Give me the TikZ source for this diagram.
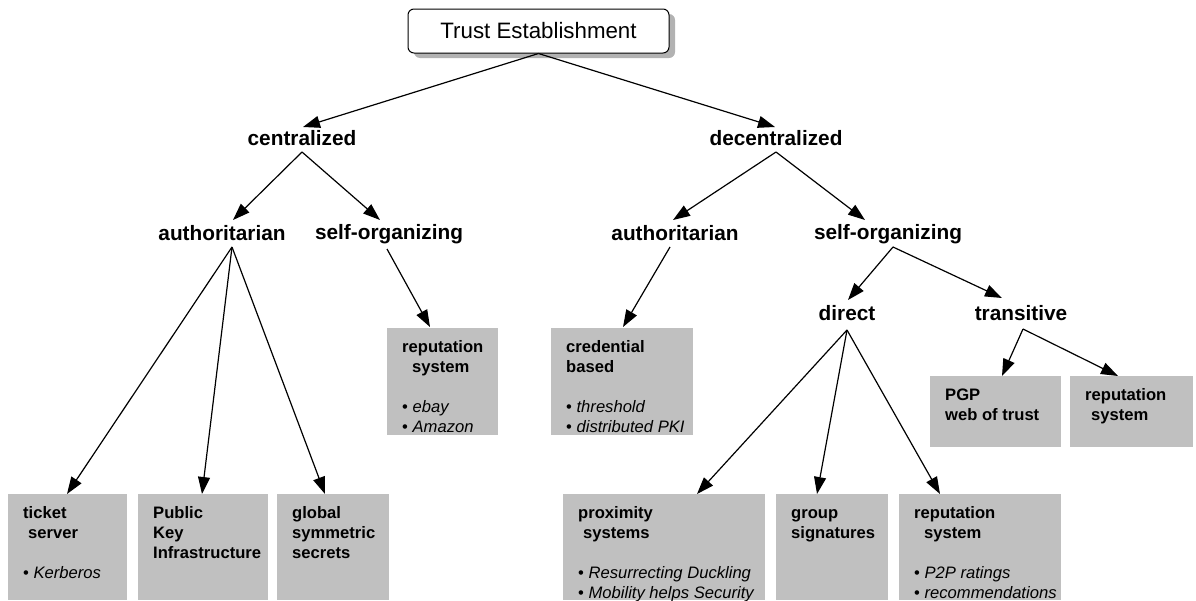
\documentclass[tikz,border=0pt]{standalone}
\usepackage{fontspec}
\setmainfont{Liberation Sans}
\usetikzlibrary{arrows.meta,shadows}
\definecolor{boxgray}{HTML}{C0C0C0}
\newcommand\bxt[3]{\begin{minipage}[t][#2pt][t]{#1pt}\raggedright\setlength\leftskip{15pt}\setlength\parindent{0pt}\fontsize{16.6}{20}\selectfont\rule{0pt}{24pt}#3\end{minipage}}
\tikzset{
  gbox/.style={fill=boxgray, draw=none, inner sep=0pt, anchor=north west},
  lab/.style={font=\fontsize{20.8}{24}\selectfont\bfseries, inner sep=0pt, text height=15pt, text depth=4pt},
  arr/.style={line width=1.2pt, -{Triangle[length=17pt,width=12pt]}},
  root/.style={draw, line width=1pt, rounded corners=6pt, fill=white, minimum width=261pt, minimum height=44pt, inner sep=0pt,
    font=\fontsize{22.3}{26}\selectfont, drop shadow={shadow xshift=6pt, shadow yshift=-5pt, fill=black!30, opacity=1}}
}
\begin{document}
\begin{tikzpicture}[x=1pt,y=-1pt]
\useasboundingbox (0,0) rectangle (1196,600);
% root
\node[root] (trust) at (538.5,31) {Trust Establishment};
% labels
\node[lab] (cen) at (302,140) {centralized};
\node[lab] (dec) at (776,140) {decentralized};
\node[lab] (autL) at (222,235) {authoritarian};
\node[lab] (selfL) at (389,234) {self-organizing};
\node[lab] (autR) at (675,235) {authoritarian};
\node[lab] (selfR) at (888,234) {self-organizing};
\node[lab] (direct) at (847,315) {direct};
\node[lab] (trans) at (1021,315) {transitive};
% boxes
\node[gbox] (repC) at (387,328) {\bxt{111}{107}{{\bfseries reputation\\\hspace*{10pt}system}\\[20pt]• \textit{ebay}\\• \textit{Amazon}}};
\node[gbox] (cred) at (551,328) {\bxt{142}{107}{{\bfseries credential\\based}\\[20pt]• \textit{threshold}\\• \textit{distributed PKI}}};
\node[gbox] (pgp) at (930,376) {\bxt{131}{71}{{\bfseries PGP\\web of trust}}};
\node[gbox] (repT) at (1070,376) {\bxt{123}{71}{{\bfseries reputation\\\hspace*{6pt}system}}};
\node[gbox] (tick) at (8,494) {\bxt{119}{106}{{\bfseries ticket\\\hspace*{5pt}server}\\[20pt]• \textit{Kerberos}}};
\node[gbox] (pki) at (138,494) {\bxt{130}{106}{{\bfseries Public\\Key\\Infrastructure}}};
\node[gbox] (glob) at (277,494) {\bxt{112}{106}{{\bfseries global\\symmetric\\secrets}}};
\node[gbox] (prox) at (563,494) {\bxt{202}{106}{{\bfseries proximity\\\hspace*{5pt}systems}\\[20pt]• \textit{Resurrecting Duckling}\\• \textit{Mobility helps Security}}};
\node[gbox] (group) at (776,494) {\bxt{112}{106}{{\bfseries group\\signatures}}};
\node[gbox] (repD) at (899,494) {\bxt{162}{106}{{\bfseries reputation\\\hspace*{10pt}system}\\[20pt]• \textit{P2P ratings}\\• \textit{recommendations}}};
% connectors
\draw[arr] (trust.south) -- ([xshift=1pt,yshift=13pt]cen.center);
\draw[arr] (trust.south) -- ([xshift=-1pt,yshift=13pt]dec.center);
\draw[arr] ([yshift=-12pt]cen.center) -- ([xshift=11pt,yshift=15pt]autL.center);
\draw[arr] ([yshift=-12pt]cen.center) -- ([xshift=-9pt,yshift=14pt]selfL.center);
\draw[arr] ([yshift=-12pt]dec.center) -- ([xshift=-2pt,yshift=15pt]autR.center);
\draw[arr] ([yshift=-12pt]dec.center) -- ([xshift=-23pt,yshift=14pt]selfR.center);
\draw[arr] ([xshift=10pt,yshift=-12pt]autL.center) -- ([xshift=59pt]tick.north west);
\draw[arr] ([xshift=10pt,yshift=-12pt]autL.center) -- ([xshift=64pt]pki.north west);
\draw[arr] ([xshift=10pt,yshift=-12pt]autL.center) -- ([xshift=48pt]glob.north west);
\draw[arr] ([xshift=-2pt,yshift=-15pt]selfL.center) -- ([xshift=43pt,yshift=1pt]repC.north west);
\draw[arr] ([xshift=-5pt,yshift=-12pt]autR.center) -- ([xshift=72pt,yshift=1pt]cred.north west);
\draw[arr] ([xshift=5pt,yshift=-13pt]selfR.center) -- ([xshift=1pt,yshift=15pt]direct.center);
\draw[arr] ([xshift=5pt,yshift=-13pt]selfR.center) -- ([xshift=-19pt,yshift=17pt]trans.center);
\draw[arr] ([yshift=-15pt]direct.center) -- ([xshift=134pt]prox.north west);
\draw[arr] ([yshift=-15pt]direct.center) -- ([xshift=41pt]group.north west);
\draw[arr] ([yshift=-15pt]direct.center) -- ([xshift=41pt]repD.north west);
\draw[arr] ([xshift=2pt,yshift=-14pt]trans.center) -- ([xshift=72pt]pgp.north west);
\draw[arr] ([xshift=2pt,yshift=-14pt]trans.center) -- ([xshift=48pt]repT.north west);
\end{tikzpicture}
\end{document}
